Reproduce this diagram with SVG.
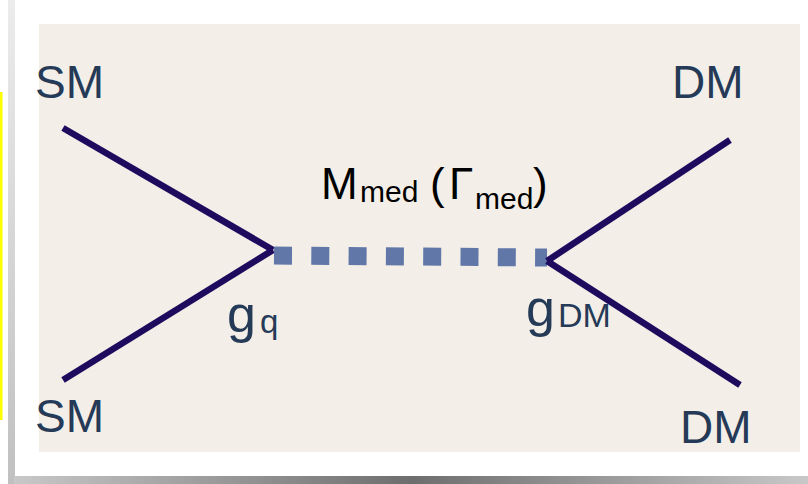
<svg xmlns="http://www.w3.org/2000/svg" width="808" height="484" viewBox="0 0 808 484">
  <defs>
    <linearGradient id="shadowB" x1="0" y1="0" x2="1" y2="0">
      <stop offset="0" stop-color="#c8c8c8"/>
      <stop offset="0.5" stop-color="#6e6e6e"/>
      <stop offset="1" stop-color="#c8c8c8"/>
    </linearGradient>
    <linearGradient id="shadowV" x1="0" y1="0" x2="0" y2="1">
      <stop offset="0" stop-color="#ececec"/>
      <stop offset="1" stop-color="#c0c0c0"/>
    </linearGradient>
  </defs>
  <style>
    .lbl { font-family: "Liberation Sans", Arial, sans-serif; fill: #253a57; }
    .fer { stroke: #1f0b5e; stroke-width: 6.5; fill: none; stroke-linecap: butt; }
    .med { stroke: #6077a8; stroke-width: 18; fill: none; stroke-dasharray: 18 19.3; }
    .blk { font-family: "Liberation Sans", Arial, sans-serif; fill: #000000; }
  </style>
  <rect x="0" y="0" width="808" height="484" fill="#ffffff"/>
  <rect x="0" y="92" width="2.5" height="328" fill="#ffff00"/>
  <rect x="8" y="0" width="7" height="484" fill="url(#shadowV)"/>
  <rect x="14" y="476" width="794" height="8" fill="url(#shadowB)"/>
  <rect x="39" y="24" width="761" height="428" fill="#f3efe8"/>

  <g id="connectors">
    <line class="fer" x1="63" y1="128" x2="273" y2="250"/>
    <line class="fer" x1="63" y1="380" x2="273" y2="250"/>
    <line class="med" x1="274" y1="255.5" x2="547" y2="257.5"/>
    <line class="fer" x1="730" y1="140" x2="547" y2="261"/>
    <line class="fer" x1="740" y1="385" x2="547" y2="261"/>
  </g>

  <g id="sm-top"><text class="lbl" x="35" y="98" font-size="46">SM</text></g>
  <g id="sm-bottom"><text class="lbl" x="35" y="432" font-size="46">SM</text></g>
  <g id="dm-top"><text class="lbl" x="672" y="98" font-size="46">DM</text></g>
  <g id="dm-bottom"><text class="lbl" x="680" y="443" font-size="46">DM</text></g>

  <g id="mediator-label">
    <text class="blk" font-size="44"><tspan x="321" y="199">M</tspan><tspan x="360" y="202" font-size="30">med</tspan><tspan x="430" y="199">(</tspan><tspan x="449" y="199">Γ</tspan><tspan x="475" y="209" font-size="30">med</tspan><tspan x="533" y="199">)</tspan></text>
  </g>

  <g id="gq">
    <text class="lbl" font-size="52"><tspan x="227" y="332">g</tspan><tspan x="260" y="333" font-size="33">q</tspan></text>
  </g>
  <g id="gdm">
    <text class="lbl" font-size="52"><tspan x="526" y="326">g</tspan><tspan x="558" y="327" font-size="34">DM</tspan></text>
  </g>
</svg>
